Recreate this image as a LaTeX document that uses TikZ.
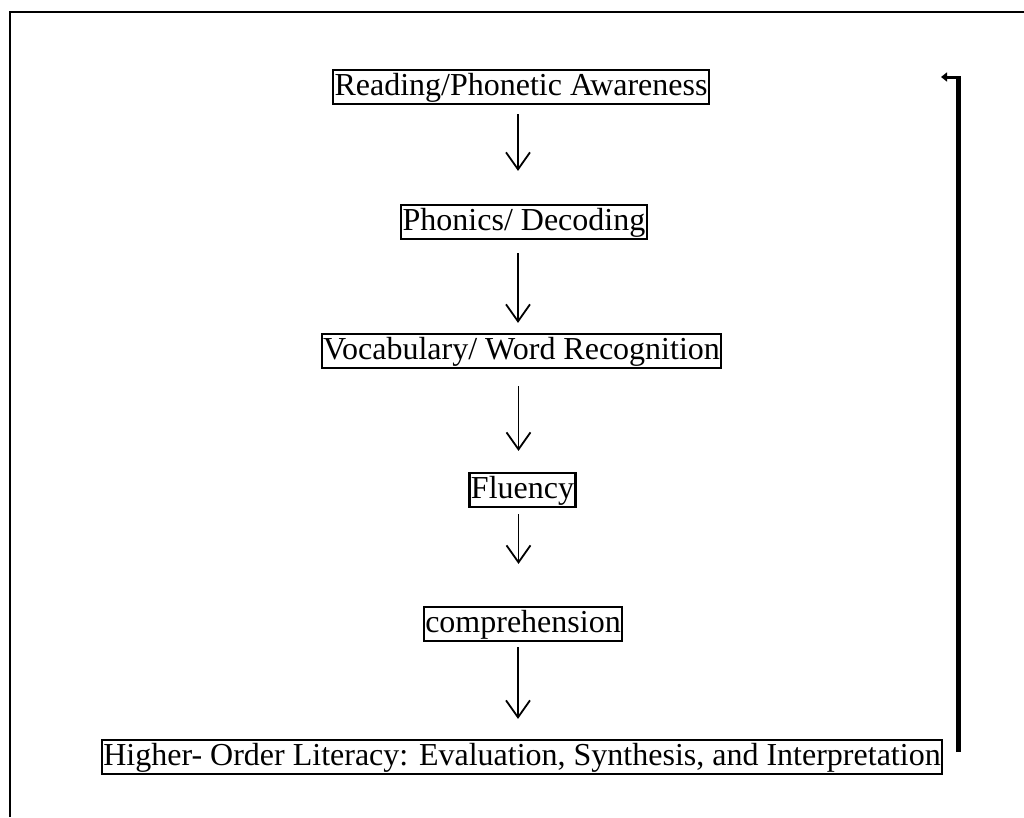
\documentclass[tikz,border=0pt]{standalone}
\usepackage{fontspec}
\setmainfont{Liberation Serif}
\usetikzlibrary{arrows.meta,positioning,calc}
\tikzset{
  lit/box/.style={
    draw=black,
    line width=2.2pt,
    fill=white,
    align=center,
    text=black,
    inner xsep=1.5pt,
    inner ysep=1.5pt,
    text height=24pt,
    text depth=7pt,
    font=\fontsize{32}{36}\selectfont
  },
  lit/arrow/.style={-{Straight Barb[length=17pt,width=24pt,line width=1.8pt]}, line width=1.8pt, draw=black},
  lit/loop/.style={line width=5pt, draw=black},
  lit/loophead/.style={-{Triangle[length=6pt,width=9pt]}, line width=3pt, draw=black},
  lit/frame/.style={line width=2.2pt, draw=black}
}
\begin{document}
\begin{tikzpicture}[x=1pt,y=-1pt]
  \useasboundingbox (0,0) rectangle (1024,817);
  % frame of the cell
  \draw[lit/frame] (10,817) -- (10,12) -- (1024,12);
  % the ladder
  \node[lit/box] (read) at (521,87) {Reading/Phonetic Awareness};
  \node[lit/box] (phon) at (524,222) {Phonics/ Decoding};
  \node[lit/box] (vocab) at (521.5,351) {Vocabulary/ Word Recognition};
  \node[lit/box] (flu) at (522.5,490) {Fluency};
  \node[lit/box] (comp) at (523,624) {comprehension};
  \node[lit/box] (high) at (522,757) {Higher- Order Literacy: Evaluation, Synthesis, and Interpretation};
  \draw[lit/arrow, shorten <=9pt, shorten >=33pt] ([xshift=-3pt]read.south) -- ([xshift=-3pt]read.south |- phon.north);
  \draw[lit/arrow, shorten <=13pt, shorten >=10pt] ([xshift=-6pt]phon.south) -- ([xshift=-6pt]phon.south |- vocab.north);
  \draw[lit/arrow, shorten <=17pt, shorten >=21pt] ([xshift=-3pt]vocab.south) -- ([xshift=-3pt]vocab.south |- flu.north);
  \draw[lit/arrow, shorten <=6pt, shorten >=42pt] ([xshift=-4pt]flu.south) -- ([xshift=-4pt]flu.south |- comp.north);
  \draw[lit/arrow, shorten <=5pt, shorten >=20pt] ([xshift=-5pt]comp.south) -- ([xshift=-5pt]comp.south |- high.north);
  % going back up
  \coordinate (fbBot) at (958.5,752);
  \coordinate (fbTop) at (958.5,77);
  \coordinate (fbEnd) at (941,77);
  \draw[lit/loop] (fbBot) -- ([yshift=-1.5pt]fbTop);
  \draw[lit/loophead] ([xshift=2.5pt]fbTop) -- (fbEnd);
\end{tikzpicture}
\end{document}
